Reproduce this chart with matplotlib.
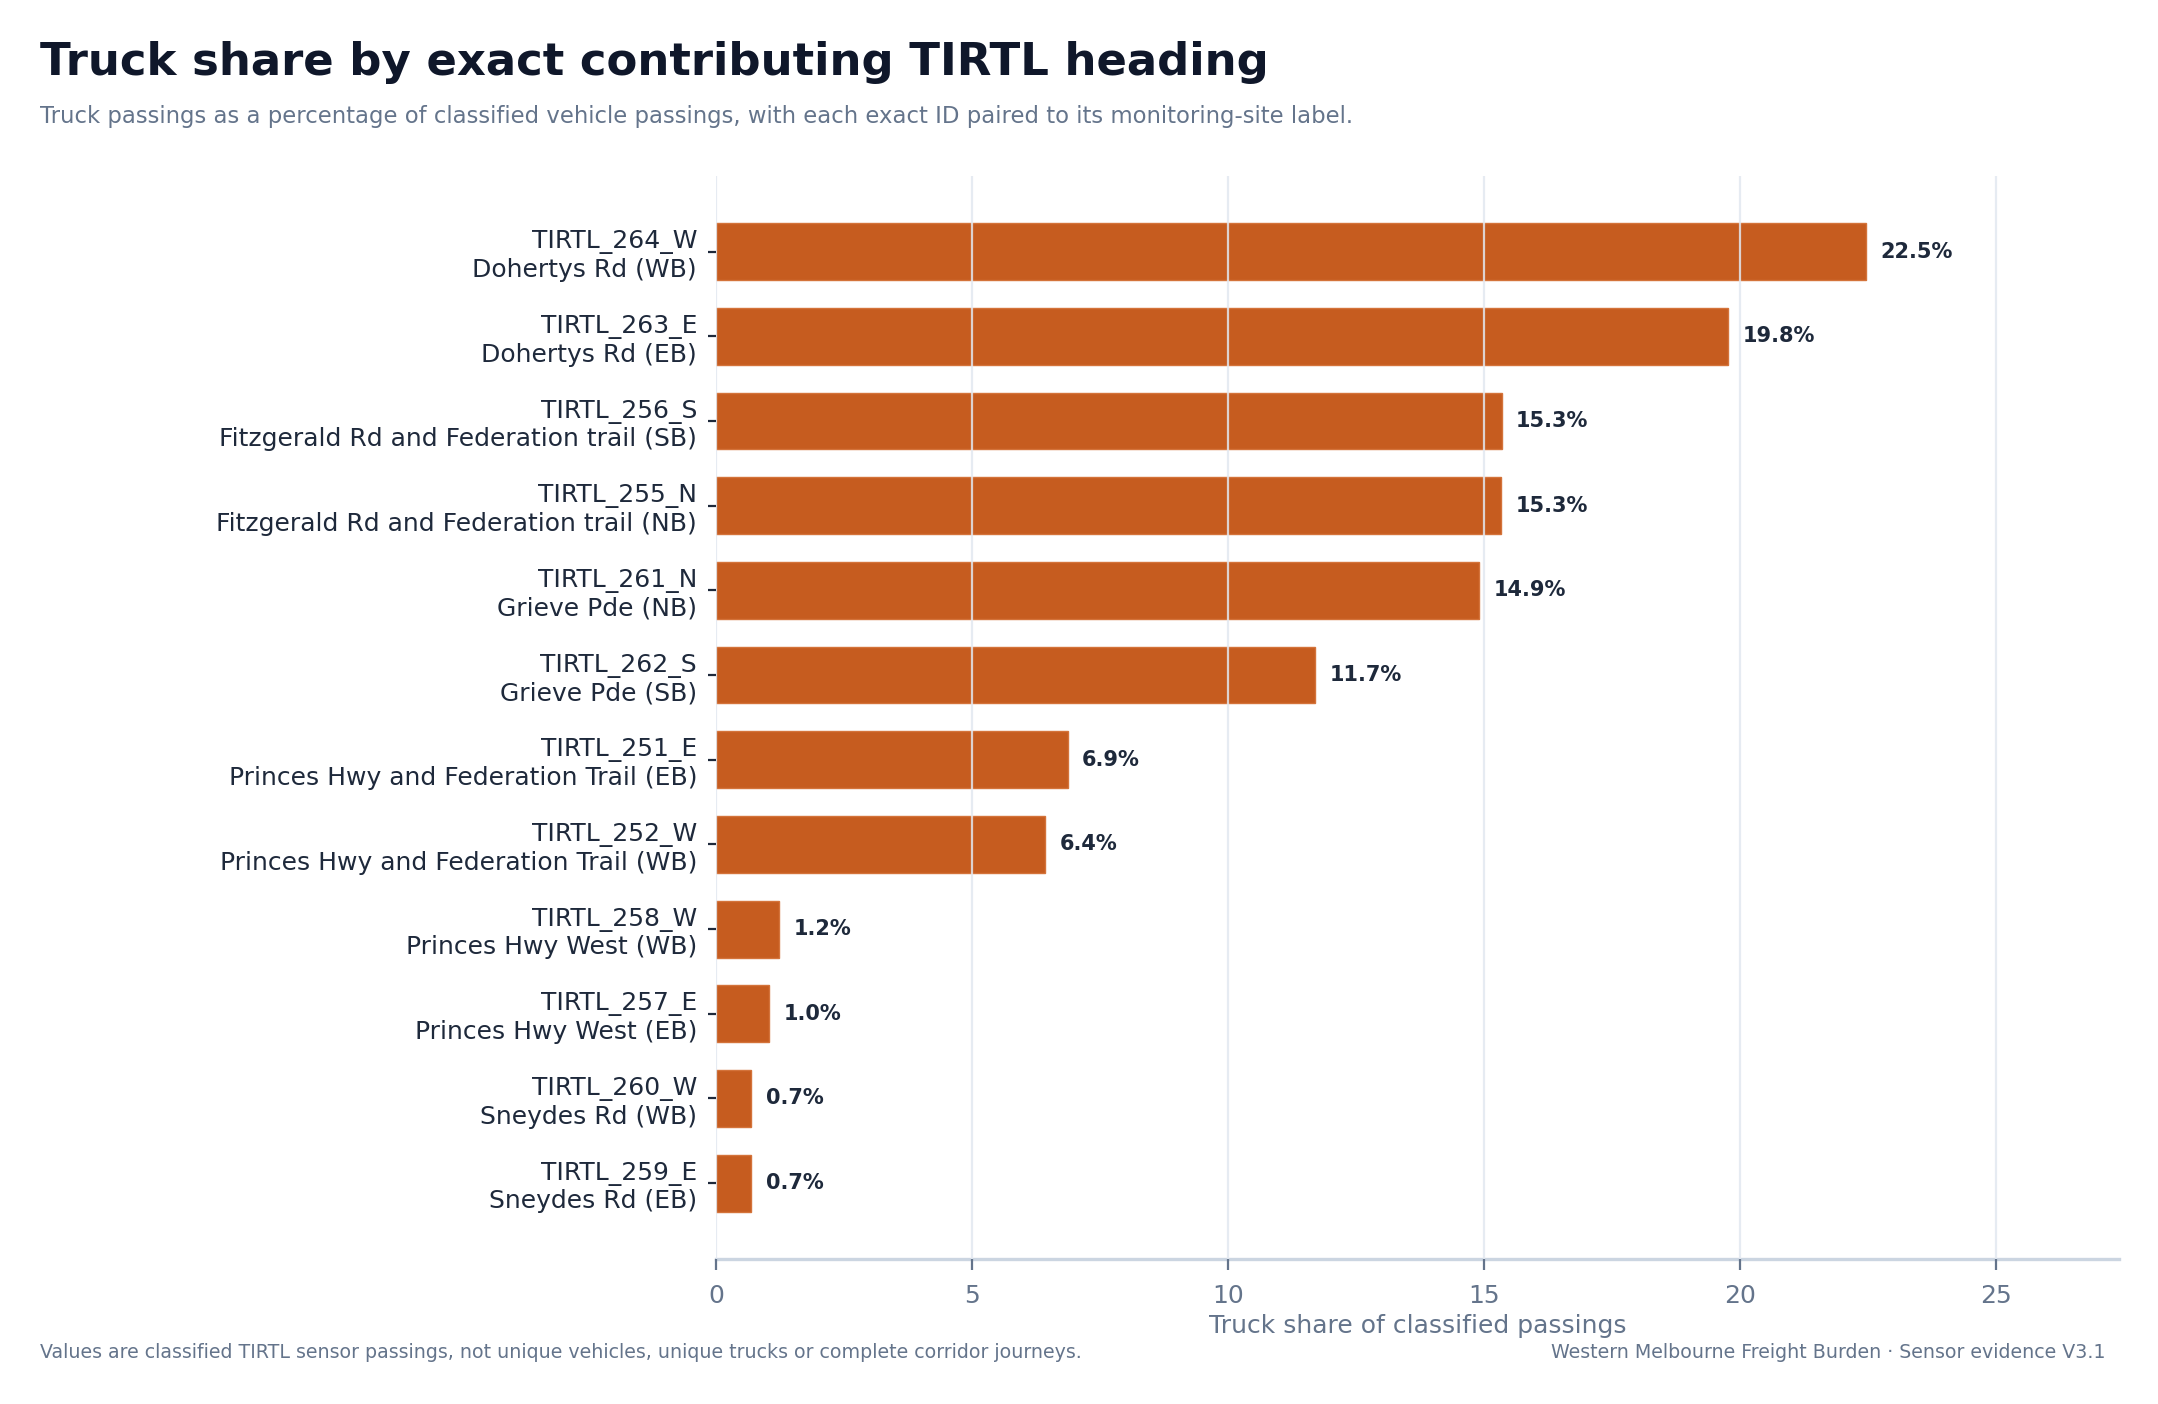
import matplotlib
matplotlib.use('Agg')
import matplotlib.pyplot as plt

sensor_ids = ['TIRTL_264_W', 'TIRTL_263_E', 'TIRTL_256_S', 'TIRTL_255_N', 'TIRTL_261_N', 'TIRTL_262_S',
              'TIRTL_251_E', 'TIRTL_252_W', 'TIRTL_258_W', 'TIRTL_257_E', 'TIRTL_260_W', 'TIRTL_259_E']
site_labels = ['Dohertys Rd (WB)', 'Dohertys Rd (EB)', 'Fitzgerald Rd and Federation trail (SB)',
               'Fitzgerald Rd and Federation trail (NB)', 'Grieve Pde (NB)', 'Grieve Pde (SB)',
               'Princes Hwy and Federation Trail (EB)', 'Princes Hwy and Federation Trail (WB)',
               'Princes Hwy West (WB)', 'Princes Hwy West (EB)', 'Sneydes Rd (WB)', 'Sneydes Rd (EB)']
truck_share = [22.46, 19.76, 15.34, 15.33, 14.9, 11.7, 6.86, 6.42, 1.22, 1.03, 0.68, 0.68]
x_ticks = [0, 5, 10, 15, 20, 25]

BAR = '#C65C1F'
DARK = '#0F172A'
TEXT = '#1E293B'
MUTED = '#64748B'
GRID = '#E2E8F0'


def main():
    fig = plt.figure(figsize=(10.79, 7.02), dpi=200)
    ax = fig.add_axes([0.332, 0.103, 0.65, 0.772])

    ypos = list(range(len(truck_share)))
    ax.barh(ypos, truck_share, height=0.67, color=BAR, edgecolor='#D4733A', linewidth=0.5, zorder=2)
    for y, v in zip(ypos, truck_share):
        ax.text(v + 0.28, y, f'{v:.1f}%', va='center', ha='left', fontsize=7.5,
                fontweight='bold', color=TEXT, zorder=4)

    ax.set_ylim(len(truck_share) - 0.1, -0.9)
    ax.set_xlim(0, max(truck_share) * 1.22)
    ax.set_yticks(ypos)
    ax.set_yticklabels([f'{a}\n{b}' for a, b in zip(sensor_ids, site_labels)], fontsize=9, color=TEXT)
    ax.set_xticks(x_ticks)
    ax.tick_params(axis='x', colors=MUTED, labelsize=9, length=4, width=0.8, pad=5)
    ax.tick_params(axis='y', colors=TEXT, length=3, width=0.8, pad=4)

    # grid sits over the bars, as in the original
    ax.grid(axis='x', color=GRID, linewidth=0.8, alpha=0.85, zorder=3)
    ax.set_axisbelow(False)
    for s in ['top', 'right', 'left']:
        ax.spines[s].set_visible(False)
    ax.spines['bottom'].set_color('#CBD5E1')
    ax.spines['bottom'].set_linewidth(1.2)

    ax.set_xlabel('Truck share of classified passings', fontsize=9, color=MUTED, labelpad=2)

    fig.text(0.0185, 0.971, 'Truck share by exact contributing TIRTL heading', fontsize=16.2,
             fontweight='bold', color=DARK, ha='left', va='top')
    fig.text(0.0185, 0.917, 'Truck passings as a percentage of classified vehicle passings, with each exact ID '
             'paired to its monitoring-site label.', fontsize=8.2, color=MUTED, ha='left', va='center')
    fig.text(0.0185, 0.0365, 'Values are classified TIRTL sensor passings, not unique vehicles, unique trucks '
             'or complete corridor journeys.', fontsize=6.85, color=MUTED, ha='left', va='center')
    fig.text(0.9758, 0.0365, 'Western Melbourne Freight Burden \u00b7 Sensor evidence V3.1', fontsize=6.85,
             color=MUTED, ha='right', va='center')

    fig.savefig('out.png', dpi=200, facecolor='white')


if __name__ == '__main__':
    main()
